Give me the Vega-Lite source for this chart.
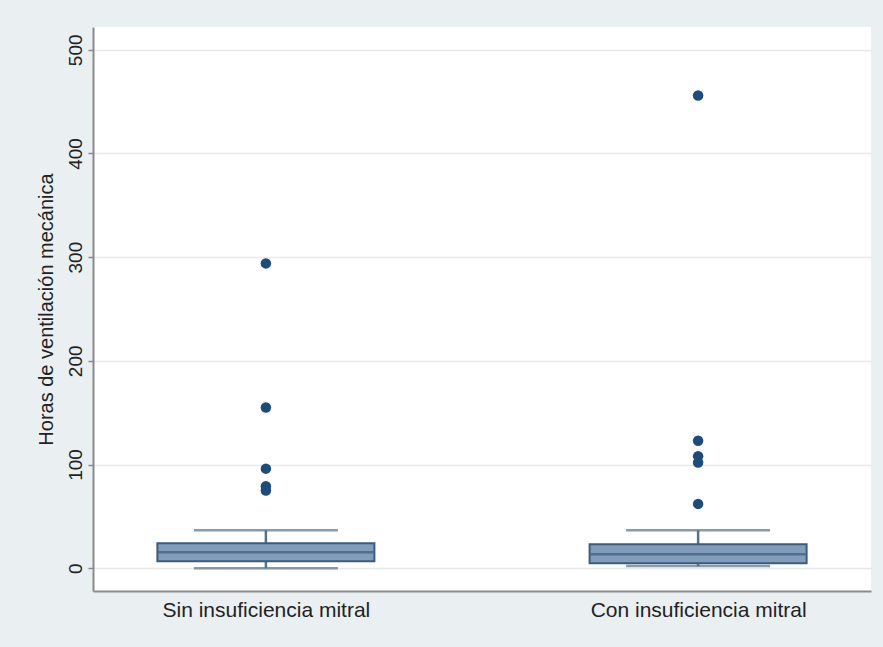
{
  "$schema": "https://vega.github.io/schema/vega-lite/v6.json",
  "width": 778,
  "height": 564,
  "autosize": {"type": "none"},
  "padding": {"left": 93, "top": 27, "right": 12, "bottom": 56},
  "background": "#eaf0f2",
  "config": {
    "view": {"fill": "white", "stroke": null},
    "font": "Liberation Sans"
  },
  "datasets": {
    "stats": [
      {"grupo": "Sin insuficiencia mitral", "lower": 0, "q1": 6.7, "median": 15.4, "q3": 24, "upper": 36.5},
      {"grupo": "Con insuficiencia mitral", "lower": 2, "q1": 4.8, "median": 13.5, "q3": 23, "upper": 36.5}
    ],
    "out": [
      {"grupo": "Sin insuficiencia mitral", "horas": 294},
      {"grupo": "Sin insuficiencia mitral", "horas": 155},
      {"grupo": "Sin insuficiencia mitral", "horas": 96},
      {"grupo": "Sin insuficiencia mitral", "horas": 79},
      {"grupo": "Sin insuficiencia mitral", "horas": 75},
      {"grupo": "Con insuficiencia mitral", "horas": 456},
      {"grupo": "Con insuficiencia mitral", "horas": 123},
      {"grupo": "Con insuficiencia mitral", "horas": 108},
      {"grupo": "Con insuficiencia mitral", "horas": 102},
      {"grupo": "Con insuficiencia mitral", "horas": 62}
    ]
  },
  "encoding": {
    "x": {
      "field": "grupo",
      "type": "nominal",
      "sort": ["Sin insuficiencia mitral", "Con insuficiencia mitral"],
      "scale": {"type": "point", "padding": 0.4},
      "axis": {
        "title": null,
        "labelAngle": 0,
        "labelFontSize": 21,
        "labelLimit": 500,
        "labelColor": "#222222",
        "labelPadding": 8,
        "ticks": false,
        "domainColor": "#8a8a8a",
        "domainWidth": 2,
        "grid": false
      }
    }
  },
  "layer": [
    {
      "data": {"name": "stats"},
      "mark": {"type": "rule", "color": "#56718d", "strokeWidth": 2.5},
      "encoding": {
        "y": {
          "field": "upper",
          "type": "quantitative",
          "scale": {"domain": [-22, 522], "nice": false, "zero": false},
          "axis": {
            "title": "Horas de ventilación mecánica",
            "titleFontSize": 20,
            "titleFontWeight": "normal",
            "titleColor": "#222222",
            "titlePadding": 10,
            "values": [0, 100, 200, 300, 400, 500],
            "labelAngle": 270,
            "labelFontSize": 19,
            "labelColor": "#222222",
            "labelPadding": 3,
            "tickSize": 5,
            "tickColor": "#8a8a8a",
            "tickWidth": 1.5,
            "domainColor": "#8a8a8a",
            "domainWidth": 2,
            "grid": true,
            "gridColor": "#e8e8e8",
            "gridWidth": 1.5
          }
        },
        "y2": {"field": "lower"}
      }
    },
    {
      "data": {"name": "stats"},
      "mark": {"type": "tick", "color": "#56718d", "size": 144, "thickness": 2.5},
      "encoding": {"y": {"field": "upper", "type": "quantitative"}}
    },
    {
      "data": {"name": "stats"},
      "mark": {"type": "tick", "color": "#56718d", "size": 144, "thickness": 2.5},
      "encoding": {"y": {"field": "lower", "type": "quantitative"}}
    },
    {
      "data": {"name": "stats"},
      "mark": {"type": "bar", "size": 217, "fill": "#829db9", "stroke": "#3b5b7f", "strokeWidth": 2},
      "encoding": {
        "y": {"field": "q1", "type": "quantitative"},
        "y2": {"field": "q3"}
      }
    },
    {
      "data": {"name": "stats"},
      "mark": {"type": "tick", "color": "#3b5b7f", "size": 215, "thickness": 2.5},
      "encoding": {"y": {"field": "median", "type": "quantitative"}}
    },
    {
      "data": {"name": "out"},
      "mark": {"type": "circle", "size": 110, "color": "#1b4c7c", "opacity": 1},
      "encoding": {"y": {"field": "horas", "type": "quantitative"}}
    }
  ]
}
